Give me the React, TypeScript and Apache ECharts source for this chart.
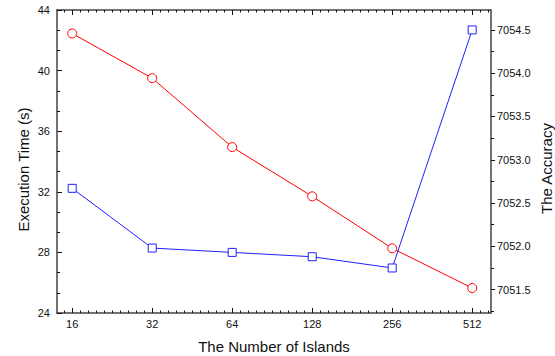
import React, { useEffect, useRef } from "react";
import * as echarts from "echarts";

const islands = [16, 32, 64, 128, 256, 512];
const executionTime = [42.45, 39.5, 34.95, 31.7, 28.27, 25.65];
const accuracy = [7052.67, 7051.98, 7051.93, 7051.88, 7051.75, 7054.5];
const leftTicks = [24, 28, 32, 36, 40, 44];
const rightTicks = [7051.5, 7052.0, 7052.5, 7053.0, 7053.5, 7054.0, 7054.5];
const rightMinorTicks = [7051.25, 7051.75, 7052.25, 7052.75, 7053.25, 7053.75, 7054.25];

const X_MIN = 3.81;
const X_MAX = 9.235;
const Y2_MIN = 7051.23;
const Y2_MAX = 7054.73;

const FONT = "Liberation Sans, Arial, sans-serif";
const AX = "#444";

export default function App() {
  const ref = useRef<HTMLDivElement>(null);
  useEffect(() => {
    if (!ref.current) return;
    const chart = echarts.init(ref.current, undefined, { renderer: "svg" });
    const majorX = islands.map((n) => Math.log2(n));
    const minorX: number[] = [];
    for (let k = 39; k <= 92; k++) {
      if (k % 10 !== 0) minorX.push(k / 10);
    }
    const baseX = {
      type: "value",
      min: X_MIN,
      max: X_MAX,
      splitLine: { show: false },
    };
    chart.setOption({
      animation: false,
      grid: { left: 57, right: 64, top: 10, bottom: 43, containLabel: false, outerBoundsMode: "none" },
      xAxis: [
        {
          ...baseX,
          position: "bottom",
          name: "The Number of Islands",
          nameLocation: "middle",
          nameGap: 26,
          nameMoveOverlap: false,
          nameTextStyle: { fontFamily: FONT, fontSize: 15, color: "#111" },
          axisLine: { show: true, lineStyle: { color: AX, width: 1.5 } },
          axisTick: { show: true, inside: true, length: 5, customValues: majorX, lineStyle: { color: "#111" } },
          axisLabel: {
            show: true,
            customValues: majorX,
            margin: 5,
            fontFamily: FONT,
            fontSize: 11,
            color: "#111",
            formatter: (v: number) => String(Math.round(Math.pow(2, v))),
          },
        },
        {
          ...baseX,
          position: "bottom",
          axisLine: { show: false },
          axisTick: { show: true, inside: true, length: 2.5, customValues: minorX, lineStyle: { color: "#111" } },
          axisLabel: { show: false },
        },
        {
          ...baseX,
          position: "top",
          axisLine: { show: true, lineStyle: { color: AX, width: 1.5 } },
          axisTick: { show: true, inside: true, length: 5, customValues: majorX, lineStyle: { color: "#111" } },
          axisLabel: { show: false },
        },
        {
          ...baseX,
          position: "top",
          axisLine: { show: false },
          axisTick: { show: true, inside: true, length: 2.5, customValues: minorX, lineStyle: { color: "#111" } },
          axisLabel: { show: false },
        },
      ],
      yAxis: [
        {
          type: "value",
          position: "left",
          min: leftTicks[0],
          max: leftTicks[leftTicks.length - 1],
          interval: 4,
          name: "Execution Time (s)",
          nameLocation: "middle",
          nameGap: 26,
          nameMoveOverlap: false,
          nameTextStyle: { fontFamily: FONT, fontSize: 15, color: "#111", padding: [0, 16, 0, 0] },
          splitLine: { show: false },
          axisLine: { show: true, lineStyle: { color: AX, width: 1.5 } },
          axisTick: { show: true, inside: true, length: 5, lineStyle: { color: "#111" } },
          minorTick: { show: true, splitNumber: 3, length: 3, lineStyle: { color: "#111" } },
          axisLabel: { margin: 7, fontFamily: FONT, fontSize: 11, color: "#111" },
        },
        {
          type: "value",
          position: "right",
          min: Y2_MIN,
          max: Y2_MAX,
          name: "The Accuracy",
          nameLocation: "middle",
          nameGap: 48,
          nameMoveOverlap: false,
          nameTextStyle: { fontFamily: FONT, fontSize: 15, color: "#111", padding: [0, 14, 0, 0] },
          splitLine: { show: false },
          axisLine: { show: true, lineStyle: { color: AX, width: 1.5 } },
          axisTick: { show: true, inside: false, length: 4, customValues: rightTicks, lineStyle: { color: "#111" } },
          axisLabel: {
            customValues: rightTicks,
            margin: 6,
            fontFamily: FONT,
            fontSize: 11,
            color: "#111",
            formatter: (v: number) => v.toFixed(1),
          },
        },
        {
          type: "value",
          position: "right",
          min: Y2_MIN,
          max: Y2_MAX,
          splitLine: { show: false },
          axisLine: { show: false },
          axisTick: { show: true, inside: false, length: 3, customValues: rightMinorTicks, lineStyle: { color: "#111" } },
          axisLabel: { show: false },
        },
      ],
      series: [
        {
          type: "line",
          xAxisIndex: 0,
          yAxisIndex: 0,
          data: islands.map((n, i) => [Math.log2(n), executionTime[i]]),
          symbol: "circle",
          symbolSize: 9,
          showAllSymbol: true,
          lineStyle: { color: "#ff0000", width: 1 },
          itemStyle: { color: "#ffffff", borderColor: "#ff0000", borderWidth: 1 },
          z: 3,
        },
        {
          type: "line",
          xAxisIndex: 0,
          yAxisIndex: 1,
          data: islands.map((n, i) => [Math.log2(n), accuracy[i]]),
          symbol: "rect",
          symbolSize: 8,
          showAllSymbol: true,
          lineStyle: { color: "#2020ff", width: 1 },
          itemStyle: { color: "#ffffff", borderColor: "#2020ff", borderWidth: 1 },
          z: 4,
        },
      ],
    });
    return () => chart.dispose();
  }, []);
  return <div ref={ref} style={{ width: 555, height: 356, position: "absolute", left: 0, top: 0 }} />;
}
